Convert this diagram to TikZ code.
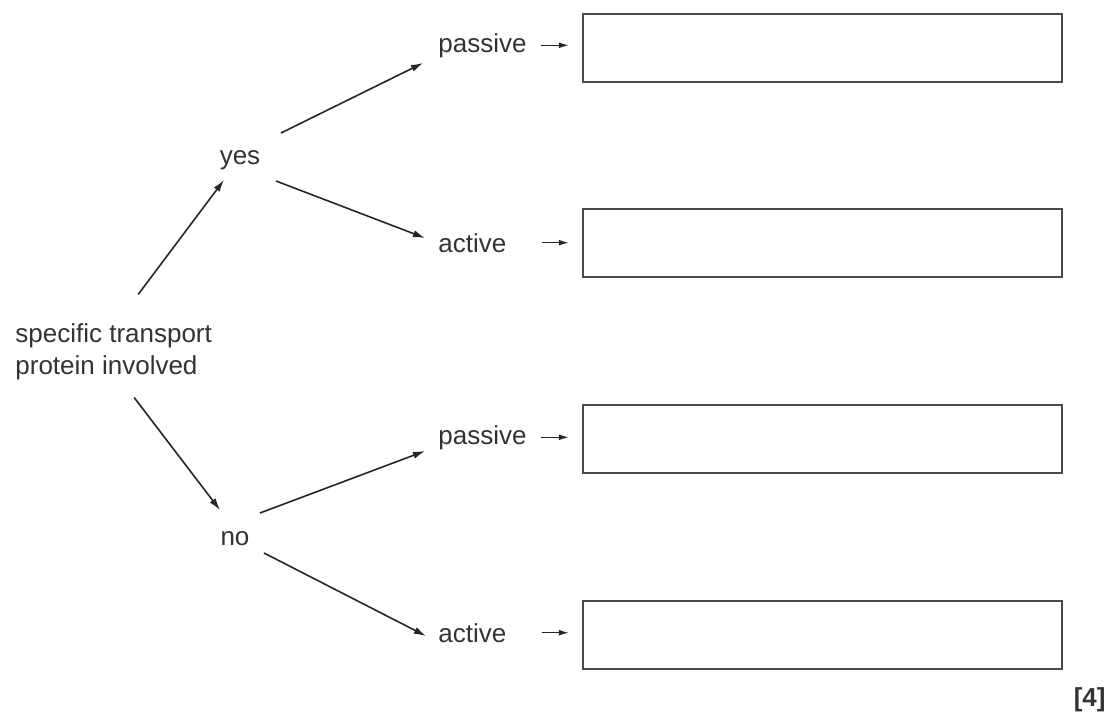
\documentclass[tikz,border=0pt]{standalone}
\usepackage{fontspec}
\setmainfont{Liberation Sans}
\usetikzlibrary{arrows.meta,calc}
\definecolor{txt}{HTML}{333333}
\definecolor{boxline}{HTML}{4A4A4A}
\tikzset{
  lbl/.style={inner sep=0pt, text=txt, font=\fontsize{13}{16}\selectfont},
  answerbox/.style={draw=boxline, line width=1.2pt, minimum width=239.5pt, minimum height=34pt, inner sep=0pt},
  arr/.style={draw=black!85, line width=0.8pt, -{Latex[length=6pt,width=3.6pt]}},
  sarr/.style={draw=black!85, line width=0.7pt, -{Latex[length=5pt,width=3pt]}}
}
\begin{document}
\begin{tikzpicture}[x=0.5pt,y=-0.5pt]
\useasboundingbox (0,0) rectangle (1109,712);
% labels
\node[lbl, anchor=west, align=left] (spec) at (15,352) {specific transport\\protein involved};
\node[lbl, anchor=base] (yes) at (240,164) {yes};
\node[lbl, anchor=base] (no) at (235,545) {no};
\node[lbl, anchor=base west] (pass1) at (438,52) {passive};
\node[lbl, anchor=base west] (act1) at (438,252) {active};
\node[lbl, anchor=base west] (pass3) at (438,444) {passive};
\node[lbl, anchor=base west] (act4) at (438,642) {active};
% boxes
\node[answerbox] (b1) at (822.5,48) {};
\node[answerbox] (b2) at (822.5,243) {};
\node[answerbox] (b3) at (822.5,439) {};
\node[answerbox] (b4) at (822.5,635) {};
\node[lbl, anchor=base east, font=\fontsize{13}{16}\selectfont\bfseries] (mark) at (1106,706) {[4]};
% tree arrows
\draw[arr] ($(spec.north)+(24.5,-29)$) -- ($(yes.base)+(-16,16)$);
\draw[arr] ($(spec.south)+(20.5,17)$) -- ($(no.base)+(-15,-35)$);
\draw[arr] ($(yes.base)+(41,-31)$) -- ($(pass1.base west)+(-15,11)$);
\draw[arr] ($(yes.base)+(36,17)$) -- ($(act1.base west)+(-13,-14)$);
\draw[arr] ($(no.base)+(25,-32)$) -- ($(pass3.base west)+(-13,7)$);
\draw[arr] ($(no.base)+(29,8)$) -- ($(act4.base west)+(-12,-6)$);
% small arrows to boxes
\draw[sarr, shorten <=7pt, shorten >=6.5pt] (pass1.east) -- (pass1.east -| b1.west);
\draw[sarr, shorten <=17.5pt, shorten >=6.5pt] (act1.east) -- (act1.east -| b2.west);
\draw[sarr, shorten <=7pt, shorten >=6.5pt] (pass3.east) -- (pass3.east -| b3.west);
\draw[sarr, shorten <=17.5pt, shorten >=6.5pt] (act4.east) -- (act4.east -| b4.west);
\end{tikzpicture}
\end{document}
